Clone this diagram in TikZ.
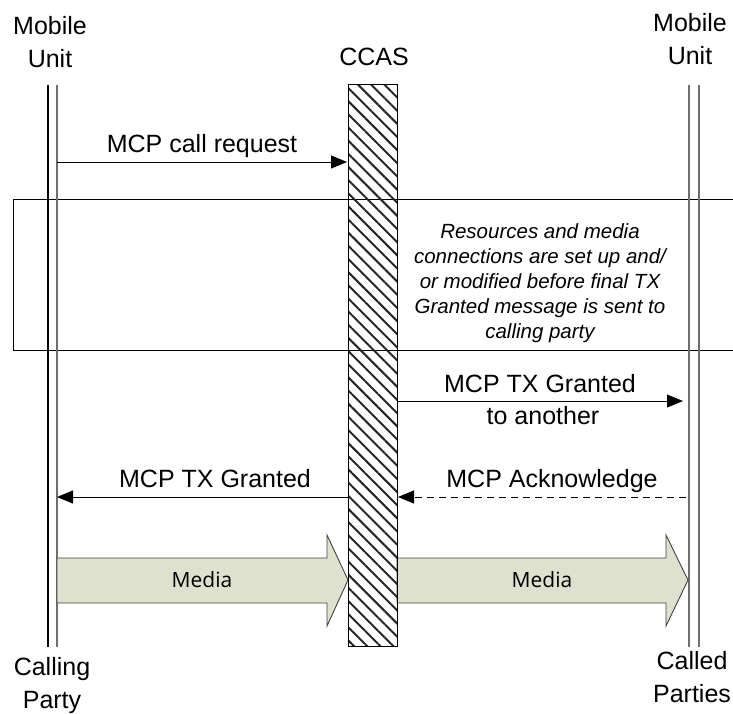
\documentclass[tikz,border=0pt]{standalone}
\usepackage{fontspec}
\setmainfont{Liberation Sans}
\newfontfamily\mediafont{Open Sans}
\usetikzlibrary{arrows.meta,patterns.meta}
\definecolor{mediafill}{RGB}{221,225,206}
\definecolor{lifegray}{RGB}{110,110,110}
\begin{document}
\begin{tikzpicture}[x=1pt,y=-1pt,
  lbl/.style={font=\fontsize{25}{33}\selectfont, align=center, anchor=base, inner sep=0pt},
  note/.style={font=\fontsize{20.5}{24.8}\selectfont\itshape, align=center, anchor=base, inner sep=0pt},
  medialbl/.style={font=\mediafont\fontsize{21}{25}\selectfont, anchor=center, inner sep=0pt},
  msg/.style={-{Triangle[length=16pt,width=13pt]}, line width=0.9pt},
  reply/.style={msg, dash pattern=on 7pt off 5pt},
  lifeline/.style={line width=1.2pt},
  mediaarrow/.style={draw=black!75, line width=0.9pt, fill=mediafill, line join=miter},
  ccasbar/.style={draw, line width=1pt, inner sep=0pt, minimum width=49pt, minimum height=562pt,
    pattern={Lines[angle=-45, distance=9.3pt, line width=2pt]}, pattern color=black!85}
]
\useasboundingbox (0,0) rectangle (733,713);

% phase box, open to the right
\draw[line width=1pt] (740,199) -- (13,199) -- (13,350) -- (740,350);

% lifelines
\draw[lifeline, black] (48,85) -- (48,647);
\draw[lifeline, lifegray] (57,85) -- (57,647);
\draw[lifeline, lifegray] (689,85) -- (689,647);
\draw[lifeline, lifegray] (699,85) -- (699,647);

% media streams
\draw[mediaarrow] (57,558) -- (327,558) -- (327,535) -- (348,580) -- (327,626) -- (327,603) -- (57,603) -- cycle;
\draw[mediaarrow] (397,558) -- (666,558) -- (666,535) -- (688,580) -- (666,626) -- (666,603) -- (397,603) -- cycle;
\node[medialbl] (media1) at (202,580) {Media};
\node[medialbl] (media2) at (542,580) {Media};

% CCAS column
\node[ccasbar] (ccas) at (372.5,365) {};

% headings (base anchor sits on the last line)
\node[lbl] (mu1) at (50,67) {Mobile\\Unit};
\node[lbl] (ccaslbl) at (374,65) {CCAS};
\node[lbl] (mu2) at (690,64) {Mobile\\Unit};
\node[lbl] (calling) at (52,708) {Calling\\Party};
\node[lbl] (called) at (692,702) {Called\\Parties};

% messages
\coordinate (reqA) at (57,162);
\coordinate (reqB) at (347,162);
\draw[msg] (reqA) -- (reqB);
\node[lbl] (reqlbl) at (202,152) {MCP call request};

\node[note] (setup) at (540,338) {Resources and media\\connections are set up and/\\or modified before final TX\\Granted message is sent to\\calling party};

\coordinate (grA) at (397,401);
\coordinate (grB) at (683,401);
\draw[msg] (grA) -- (grB);
\node[lbl] (grlbl1) at (540,392) {MCP TX Granted};
\node[lbl] (grlbl2) at (543,424) {to another};

\coordinate (txA) at (348,497);
\coordinate (txB) at (57,497);
\draw[msg] (txA) -- (txB);
\node[lbl] (txlbl) at (215,487) {MCP TX Granted};

\coordinate (ackA) at (686,497);
\coordinate (ackB) at (398,497);
\draw[reply] (ackA) -- (ackB);
\node[lbl] (acklbl) at (552,487) {MCP Acknowledge};
\end{tikzpicture}
\end{document}
